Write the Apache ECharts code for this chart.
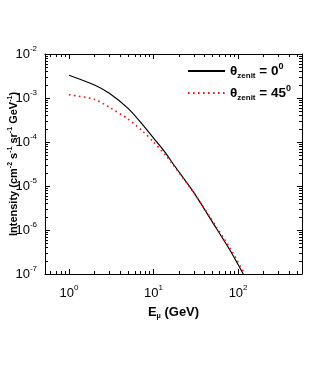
<!DOCTYPE html>
<html><head><meta charset="utf-8">
<script src="https://cdn.jsdelivr.net/npm/echarts@6/dist/echarts.min.js"></script>
<style>html,body{margin:0;padding:0;background:#fff}#c{width:332px;height:388px}</style>
</head><body><div id="c"></div>
<script>
// ---- data ----
const blackE = [1, 2, 3, 5, 7.5, 10, 14, 17, 30, 55, 80, 115];
const blackI = [3.28e-3, 1.97e-3, 1.28e-3, 5.8e-4, 2.43e-4, 1.23e-4, 5.5e-5, 3.2e-5, 7.1e-6, 1.11e-6, 3.5e-7, 1.0e-7];
const redE = [1, 2, 3, 5, 7.5, 10, 14, 17, 30, 55, 80, 120];
const redI = [1.19e-3, 9.3e-4, 6.15e-4, 3.33e-4, 1.74e-4, 1.0e-4, 4.93e-5, 3.05e-5, 7.0e-6, 1.2e-6, 3.9e-7, 1.0e-7];
const seriesNames = ['zen0', 'zen45'];
const legendLabels = ['{t|θ}{sub|zenit}{t| = 0}{sup|0}', '{t|θ}{sub|zenit}{t| = 45}{sup|0}'];
const xMajorTicks = [1, 10, 100];
const xMinorTicks = [0.6, 0.7, 0.8, 0.9, 2, 3, 4, 5, 6, 7, 8, 9, 20, 30, 40, 50, 60, 70, 80, 90, 200, 300, 400, 500];
const yMajorTicks = [1e-7, 1e-6, 1e-5, 1e-4, 1e-3, 1e-2];
const yMinorTicks = [];
[1e-7, 1e-6, 1e-5, 1e-4, 1e-3].forEach(d => [2,3,4,5,6,7,8,9].forEach(m => yMinorTicks.push(+(m * d).toPrecision(3))));
const xMin = 0.52, xMax = 570, yMin = 1e-7, yMax = 1e-2;

const FONT = 'Liberation Sans';
const supLabel = v => '{b|10}{s|' + Math.round(Math.log10(v)) + '}';
const labelRich = {
  b: {fontSize: 13, lineHeight: 18, fontFamily: FONT, color: '#000'},
  s: {fontSize: 8, lineHeight: 9, verticalAlign: 'top', fontFamily: FONT, color: '#000'}
};
const lineStyle = {color: '#000', width: 1};

function xAx(pos, major, showLabel) {
  return {
    type: 'log', position: pos, min: xMin, max: xMax, logBase: 10,
    splitLine: {show: false},
    axisLine: {show: major, onZero: false, lineStyle: lineStyle},
    axisTick: {show: true, inside: true, length: major ? 5 : 3, lineStyle: lineStyle,
      customValues: major ? xMajorTicks : xMinorTicks},
    axisLabel: {show: showLabel, customValues: xMajorTicks, formatter: supLabel, rich: labelRich, margin: 10},
    name: showLabel ? '{b|E}{u|μ}{b| (GeV)}' : '',
    nameLocation: 'middle', nameGap: 30, nameMoveOverlap: false,
    nameTextStyle: {rich: {
      b: {fontSize: 13, fontWeight: 'bold', fontFamily: FONT, color: '#000', lineHeight: 16},
      u: {fontSize: 7, fontWeight: 'bold', fontFamily: FONT, color: '#000', lineHeight: 7, verticalAlign: 'bottom'}
    }}
  };
}
function yAx(pos, major, showLabel) {
  return {
    type: 'log', position: pos, min: yMin, max: yMax, logBase: 10,
    splitLine: {show: false},
    axisLine: {show: major, onZero: false, lineStyle: lineStyle},
    axisTick: {show: true, inside: true, length: major ? 5 : 3, lineStyle: lineStyle,
      customValues: major ? yMajorTicks.slice(1, 5) : yMinorTicks},
    axisLabel: {show: showLabel, formatter: supLabel, rich: labelRich, margin: 8, showMinLabel: true, showMaxLabel: true},
    name: showLabel ? '{n|Intensity (cm}{s|-2}{n| s}{s|-1}{n| sr}{s|-1}{n| GeV}{s|-1}{n|)}' : '',
    nameLocation: 'middle', nameGap: 24, nameRotate: 90, nameMoveOverlap: false,
    nameTextStyle: {rich: {
      n: {fontSize: 11, fontWeight: 'bold', fontFamily: FONT, color: '#000', lineHeight: 14},
      s: {fontSize: 7, fontWeight: 'bold', fontFamily: FONT, color: '#000', lineHeight: 7, verticalAlign: 'top'}
    }}
  };
}

const chart = echarts.init(document.getElementById('c'), null, {renderer: 'canvas'});
chart.setOption({
  animation: false,
  backgroundColor: '#fff',
  grid: {left: 45, right: 30, top: 54, bottom: 114, outerBoundsMode: 'none', containLabel: false},
  xAxis: [xAx('bottom', true, true), xAx('bottom', false, false), xAx('top', true, false), xAx('top', false, false)],
  yAxis: [yAx('left', true, true), yAx('left', false, false), yAx('right', true, false), yAx('right', false, false)],
  legend: {
    orient: 'vertical', left: 187, top: 62, itemWidth: 37, itemHeight: 14, itemGap: 4, padding: 0,
    data: seriesNames,
    itemStyle: {opacity: 0},
    formatter: n => legendLabels[seriesNames.indexOf(n)],
    textStyle: {color: '#000', rich: {
      t: {fontSize: 13.5, fontWeight: 'bold', fontFamily: FONT, color: '#000', lineHeight: 18},
      sub: {fontSize: 8, fontWeight: 'bold', fontFamily: FONT, color: '#000', lineHeight: 8, verticalAlign: 'bottom'},
      sup: {fontSize: 9, fontWeight: 'bold', fontFamily: FONT, color: '#000', lineHeight: 9, verticalAlign: 'top'}
    }}
  },
  series: [
    {name: seriesNames[0], type: 'line', xAxisIndex: 0, yAxisIndex: 0, symbol: 'none', showSymbol: false,
     smooth: 0.25, clip: true, color: '#000',
     lineStyle: {color: '#000', width: 1.2},
     data: blackE.map((e, i) => [e, blackI[i]])},
    {name: seriesNames[1], type: 'line', xAxisIndex: 0, yAxisIndex: 0, symbol: 'none', showSymbol: false,
     smooth: 0.25, clip: true, color: '#ff1010',
     lineStyle: {color: '#ff1010', width: 1.6, type: [1.6, 3.4]},
     data: redE.map((e, i) => [e, redI[i]])}
  ]
});
</script></body></html>
